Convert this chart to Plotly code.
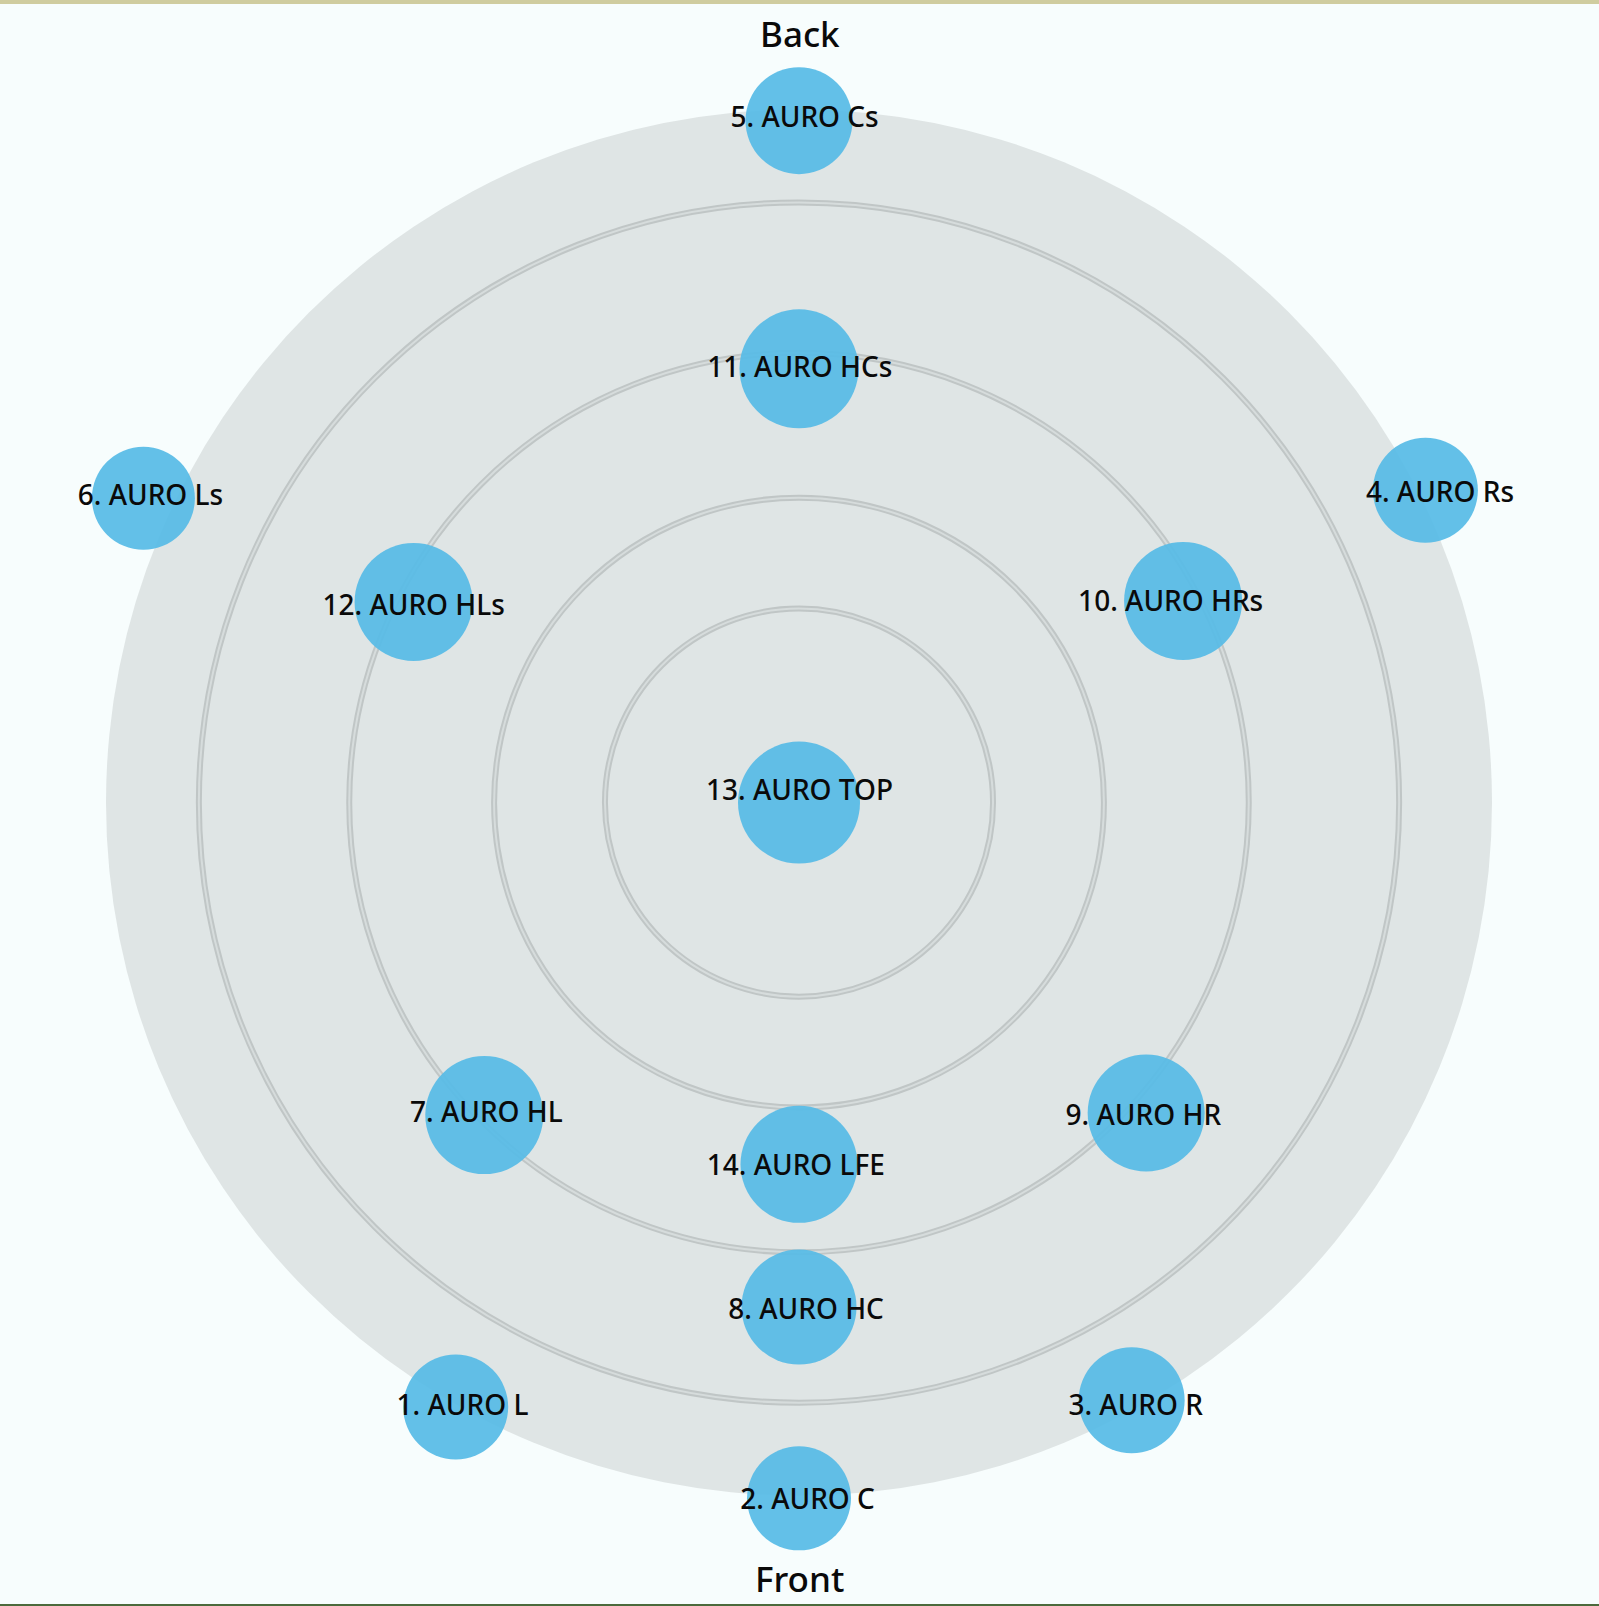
import plotly.graph_objects as go

# ---- data ----
names = ["1. AURO L", "2. AURO C", "3. AURO R", "4. AURO Rs", "5. AURO Cs",
         "6. AURO Ls", "7. AURO HL", "8. AURO HC", "9. AURO HR", "10. AURO HRs",
         "11. AURO HCs", "12. AURO HLs", "13. AURO TOP", "14. AURO LFE"]
radius = [100.3, 100.4, 98.7, 101.0, 98.4, 104.3, 64.0, 72.8, 67.2, 62.6, 62.6, 62.7, 0.0, 52.2]
angle = [240.4, 270.0, 299.1, 26.5, 90.0, 155.1, 224.8, 270.0, 318.2, 27.7, 90.0, 152.5, 0.0, 270.0]
bubble_size = [105, 104, 106, 105, 107, 103, 118, 115, 117, 118, 119, 118, 122, 117]
label_radius = [100.0, 101.0, 99.9, 102.6, 98.5, 103.4, 63.8, 73.55, 67.4, 60.8, 62.45, 62.3, 1.45, 52.8]
label_angle = [240.95, 270.7, 299.1, 25.64, 89.53, 154.84, 225.0, 270.8, 317.5, 28.1, 89.9, 153.2, 87.0, 269.5]
rings = [28.0, 44.0, 64.9, 86.6]
disk_max = 100
outer_max = 110
direction_labels = ["Back", "Front"]

BG = "#f7fdfd"
DISK = "#dfe5e5"
BUBBLE = "#57bbe6"

W, H = 1599, 1606
cx, cy, R = 799, 802.6, 693
R2 = R * outer_max / disk_max


def dom(rad):
    return dict(x=[(cx - rad) / W, (cx + rad) / W],
                y=[(H - cy - rad) / H, (H - cy + rad) / H])


fig = go.Figure()

# base subplot: the grey disk and the ring grid
fig.add_trace(go.Scatterpolar(r=[], theta=[], subplot="polar", mode="markers",
                              hoverinfo="skip", showlegend=False))

fig.add_trace(go.Scatterpolar(
    r=radius, theta=angle, mode="markers", subplot="polar2",
    marker=dict(size=bubble_size, color=BUBBLE, opacity=0.93, line=dict(width=0)),
    cliponaxis=False, hoverinfo="text", text=names, showlegend=False,
))
fig.add_trace(go.Scatterpolar(
    r=label_radius, theta=label_angle, mode="text", subplot="polar2",
    text=names, textposition="middle center",
    textfont=dict(family="Noto Sans", size=28, color="#0a0a0a", weight=500),
    cliponaxis=False, hoverinfo="skip", showlegend=False,
))

common_ang = dict(showline=False, showgrid=False, showticklabels=False, ticks="",
                  rotation=0, direction="counterclockwise")

fig.update_layout(
    width=W, height=H,
    margin=dict(l=0, r=0, t=0, b=0),
    paper_bgcolor=BG, plot_bgcolor=BG,
    polar=dict(
        domain=dom(R), bgcolor=DISK,
        radialaxis=dict(range=[0, disk_max], tickvals=rings, showticklabels=False,
                        ticks="", showline=False, gridcolor="#c0c6c6", gridwidth=5.5),
        angularaxis=common_ang,
    ),
    polar2=dict(
        domain=dom(R2), bgcolor="rgba(0,0,0,0)",
        radialaxis=dict(range=[0, outer_max], tickvals=rings, showticklabels=False,
                        ticks="", showline=False, gridcolor="#d6dcdc", gridwidth=2),
        angularaxis=common_ang,
    ),
    shapes=[
        dict(type="rect", xref="paper", yref="paper", x0=0, x1=1, y0=1 - 4 / H, y1=1,
             fillcolor="#cfcc9f", line=dict(width=0), layer="above"),
        dict(type="rect", xref="paper", yref="paper", x0=0, x1=1, y0=0, y1=2 / H,
             fillcolor="#4b6a3c", line=dict(width=0), layer="above"),
    ],
    annotations=[
        dict(text=direction_labels[0], x=0.5, y=1 - 34 / H, xref="paper", yref="paper",
             showarrow=False, xanchor="center", yanchor="middle",
             font=dict(family="Noto Sans", size=35, color="#0a0a0a", weight=500)),
        dict(text=direction_labels[1], x=0.5, y=1 - 1578 / H, xref="paper", yref="paper",
             showarrow=False, xanchor="center", yanchor="middle",
             font=dict(family="Noto Sans", size=35, color="#0a0a0a", weight=500)),
    ],
)

fig.write_html("out.html", config={"displayModeBar": False},
               post_script="document.body.style.margin='0';")
